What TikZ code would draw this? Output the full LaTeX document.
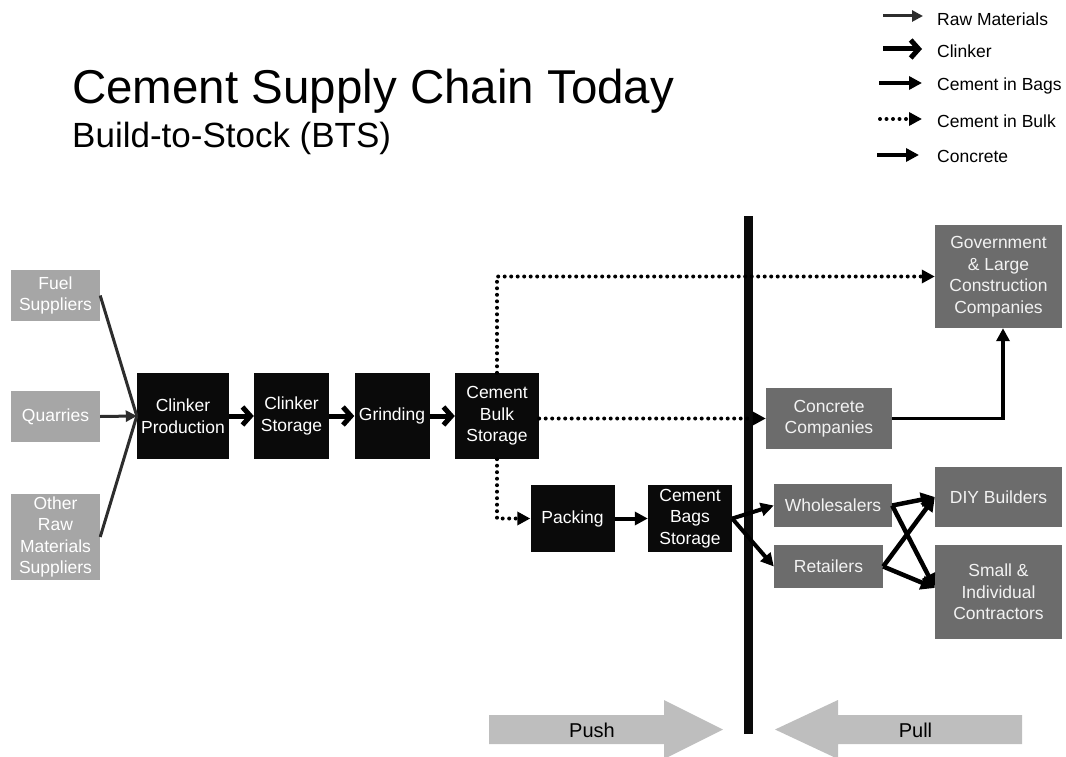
\documentclass[tikz,border=0pt]{standalone}
\usepackage{fontspec}
\setmainfont{Liberation Sans}
\usetikzlibrary{arrows.meta}
\definecolor{lightbox}{RGB}{166,166,166}
\definecolor{darkbox}{RGB}{108,108,108}
\definecolor{blackbox}{RGB}{10,10,10}
\definecolor{pushc}{RGB}{190,190,190}
\definecolor{rawc}{RGB}{45,45,45}
\tikzset{
  boxtext/.style={font=\fontsize{17.5}{21.5}\selectfont, align=center, inner sep=0pt, text=white},
  lightnode/.style={boxtext, fill=lightbox},
  darknode/.style={boxtext, fill=darkbox, text=white!95!black},
  blacknode/.style={boxtext, fill=blackbox},
  rawline/.style={draw=rawc, line width=3pt},
  rawarrow/.style={rawline, -{Triangle[length=11pt,width=11pt]}},
  clinkarrow/.style={draw=black, line width=5pt, -{Straight Barb[length=8pt,width=18pt]}},
  bagsarrow/.style={draw=black, line width=4pt, -{Triangle[length=13pt,width=13pt]}},
  crossarrow/.style={draw=black, line width=4.5pt, -{Triangle[length=14pt,width=14pt]}},
  bulkarrow/.style={draw=black, line width=4pt, dash pattern=on 0pt off 6.5pt, line cap=round, -{Triangle[length=13pt,width=13pt]}},
  concarrow/.style={draw=black, line width=3.5pt, -{Triangle[length=13pt,width=13pt]}},
  legtext/.style={font=\fontsize{17.5}{21}\selectfont, anchor=west, inner sep=0pt},
  bigarrow/.style={fill=pushc, draw=none}
}
\begin{document}
\begin{tikzpicture}[x=1pt,y=-1pt]
\useasboundingbox (0,0) rectangle (1066,757);
% Title
\node[anchor=base west, inner sep=0pt, font=\fontsize{47.5}{56}\selectfont] (title) at (72,104) {Cement Supply Chain Today};
\node[anchor=base west, inner sep=0pt, font=\fontsize{35}{42}\selectfont] (subtitle) at (72,148) {Build-to-Stock (BTS)};
% Legend
\coordinate (l1a) at (883,16); \coordinate (l1b) at (923,16);
\coordinate (l2a) at (883,49); \coordinate (l2b) at (922,49);
\coordinate (l3a) at (879,83); \coordinate (l3b) at (922,83);
\coordinate (l4a) at (880,119); \coordinate (l4b) at (922,119);
\coordinate (l5a) at (877,155); \coordinate (l5b) at (919,155);
\draw[rawarrow] (l1a) -- (l1b);
\draw[clinkarrow] (l2a) -- (l2b);
\draw[bagsarrow] (l3a) -- (l3b);
\draw[bulkarrow] (l4a) -- (l4b);
\draw[concarrow] (l5a) -- (l5b);
\node[legtext] (t1) at (937,19) {Raw Materials};
\node[legtext] (t2) at (937,51) {Clinker};
\node[legtext] (t3) at (937,86) {Cement in Bags};
\node[legtext] (t4) at (937,121) {Cement in Bulk};
\node[legtext] (t5) at (937,156) {Concrete};
% Divider bar
\fill[blackbox] (744,216) rectangle (753,734);
% Push / Pull arrows
\fill[bigarrow] (489,715) -- (664,715) -- (664,700) -- (723,729.5) -- (664,759) -- (664,744) -- (489,744) -- cycle;
\fill[bigarrow] (1022,715) -- (838,715) -- (838,700) -- (775,729.5) -- (838,759) -- (838,744) -- (1022,744) -- cycle;
\node[font=\fontsize{20}{24}\selectfont, inner sep=0pt] (push) at (592,730) {Push};
\node[font=\fontsize{20}{24}\selectfont, inner sep=0pt] (pull) at (915.5,730) {Pull};
% Supplier boxes
\node[lightnode, minimum width=89pt, minimum height=51pt] (fuel) at (55.5,295.5) {Fuel\\Suppliers};
\node[lightnode, minimum width=89pt, minimum height=51pt] (quar) at (55.5,416.5) {Quarries};
\node[lightnode, minimum width=89pt, minimum height=86pt] (other) at (55.5,537) {Other\\Raw\\Materials\\Suppliers};
% Production chain
\node[blacknode, minimum width=92pt, minimum height=86pt] (cp) at (183,416) {Clinker\\Production};
\node[blacknode, minimum width=75pt, minimum height=86pt] (cs) at (291.5,416) {Clinker\\Storage};
\node[blacknode, minimum width=75pt, minimum height=86pt] (grind) at (392,416) {Grinding};
\node[blacknode, minimum width=84pt, minimum height=86pt] (cbs) at (497,416) {Cement\\Bulk\\Storage};
\node[blacknode, minimum width=84pt, minimum height=67pt] (pack) at (572.5,518.5) {Packing};
\node[blacknode, minimum width=84pt, minimum height=67pt] (bags) at (690,518.5) {Cement\\Bags\\Storage};
% Customer boxes
\node[darknode, minimum width=126pt, minimum height=61pt] (conc) at (829,418.5) {Concrete\\Companies};
\node[darknode, minimum width=118pt, minimum height=43pt] (whole) at (833,505.5) {Wholesalers};
\node[darknode, minimum width=109pt, minimum height=43pt] (ret) at (828.5,566.5) {Retailers};
\node[darknode, minimum width=127pt, minimum height=103pt] (gov) at (998.5,276.5) {Government\\\& Large\\Construction\\Companies};
\node[darknode, minimum width=127pt, minimum height=60pt] (diy) at (998.5,497) {DIY Builders};
\node[darknode, minimum width=127pt, minimum height=94pt] (small) at (998.5,592) {Small \&\\Individual\\Contractors};
% Raw materials
\draw[rawline] (fuel.east) -- (cp.west);
\draw[rawline] (other.east) -- (cp.west);
\draw[rawarrow] (quar.east) -- (cp.west);
% Clinker
\draw[clinkarrow] (cp.east) -- (cs.west);
\draw[clinkarrow] (cs.east) -- (grind.west);
\draw[clinkarrow] (grind.east) -- (cbs.west);
% Bulk
\draw[bulkarrow] (cbs.north) |- (gov.west);
\draw[bulkarrow] (cbs.east |- conc.west) -- (conc.west);
\draw[bulkarrow] (cbs.south) |- (pack.west);
% Bags
\draw[bagsarrow] (pack.east) -- (bags.west);
\draw[bagsarrow] (bags.east) -- (whole.west);
\draw[bagsarrow] (bags.east) -- (ret.west);
\draw[crossarrow] (whole.east) -- (diy.west);
\draw[crossarrow] (whole.east) -- ([yshift=4pt]small.west);
\draw[crossarrow] (ret.east) -- (diy.west);
\draw[crossarrow] (ret.east) -- ([yshift=4pt]small.west);
% Concrete
\draw[concarrow] (conc.east) -| ([xshift=4.5pt]gov.south);
\end{tikzpicture}
\end{document}
